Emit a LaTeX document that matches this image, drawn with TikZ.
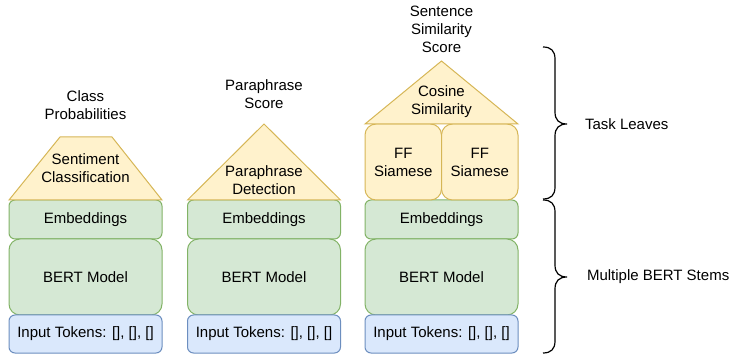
\documentclass[tikz,border=0pt]{standalone}
\usepackage{fontspec}
\setmainfont{Liberation Sans}
\definecolor{yfill}{HTML}{FFF2CC}
\definecolor{ydraw}{HTML}{D6B656}
\definecolor{gfill}{HTML}{D5E8D4}
\definecolor{gdraw}{HTML}{82B366}
\definecolor{bfill}{HTML}{DAE8FC}
\definecolor{bdraw}{HTML}{6C8EBF}
\tikzset{
  base/.style={font=\fontsize{15}{18}\selectfont, align=center, inner sep=0pt, outer sep=0pt},
  box/.style={base, line width=1pt, minimum width=153pt},
  embbox/.style={box, draw=gdraw, fill=gfill, rounded corners=6pt, minimum height=39pt},
  bertbox/.style={box, draw=gdraw, fill=gfill, rounded corners=11pt, minimum height=76pt},
  inbox/.style={box, draw=bdraw, fill=bfill, rounded corners=6pt, minimum height=38pt},
  ffbox/.style={base, line width=1pt, draw=ydraw, fill=yfill, rounded corners=11pt, minimum width=76.5pt, minimum height=76pt},
  roof/.style={draw=ydraw, fill=yfill, line width=1pt, line join=miter},
  lbl/.style={base},
  bracestroke/.style={draw=black, line width=1.2pt}
}
\begin{document}
\begin{tikzpicture}[x=1pt,y=-1pt]
\useasboundingbox (0,0) rectangle (731,355);
% column stacks
\foreach \c/\x in {1/85.5, 2/264, 3/441.5}{
  \node[embbox] (emb\c) at (\x,219.5) {Embeddings};
  \node[bertbox] (bert\c) at (\x,277) {BERT Model};
  \node[inbox] (in\c) at (\x,334) {Input Tokens: [], [], []};
}
% column 1: trapezoid
\draw[roof] (9,200) -- (60,137) -- (112,137) -- (162,200) -- cycle;
\node[lbl] (sent) at (85.5,168.5) {Sentiment\\Classification};
\node[lbl] (cls) at (85.5,105) {Class\\Probabilities};
% column 2: triangle
\draw[roof] (187.5,200) -- (264,124) -- (340.5,200) -- cycle;
\node[lbl] (para) at (264,180.5) {Paraphrase\\Detection};
\node[lbl] (pscore) at (264,94) {Paraphrase\\Score};
% column 3
\node[ffbox] (ff1) at (403.25,162) {FF\\Siamese};
\node[ffbox] (ff2) at (479.75,162) {FF\\Siamese};
\draw[roof] (365,124) -- (441.5,61) -- (518,124) -- cycle;
\node[lbl] (cos) at (441.5,101.5) {Cosine\\Similarity};
\node[lbl] (sscore) at (441.5,29.5) {Sentence\\Similarity\\Score};
% braces
\draw[bracestroke] (543,47) .. controls (551,47) and (555,51) .. (555,59) -- (555,112)
  .. controls (555,120) and (559,124) .. (567,124)
  .. controls (559,124) and (555,128) .. (555,136) -- (555,187)
  .. controls (555,195) and (551,199) .. (543,199);
\draw[bracestroke] (543,200) .. controls (551,200) and (555,204) .. (555,212) -- (555,265)
  .. controls (555,273) and (559,277) .. (567,277)
  .. controls (559,277) and (555,281) .. (555,289) -- (555,341)
  .. controls (555,349) and (551,353) .. (543,353);
\node[lbl, anchor=west] (task) at (585,124) {Task Leaves};
\node[lbl, anchor=west] (stems) at (587,277) {Multiple BERT Stems};
\end{tikzpicture}
\end{document}
